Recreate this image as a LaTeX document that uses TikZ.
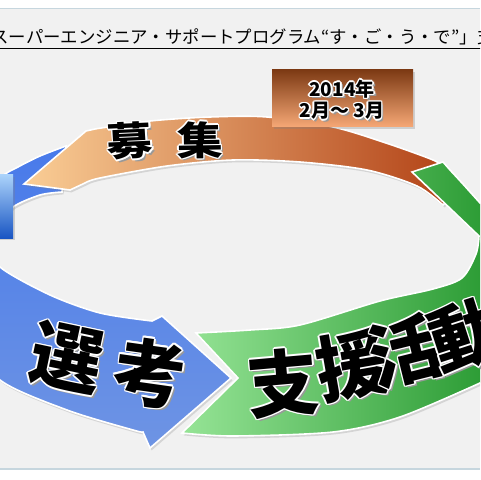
\documentclass[tikz,border=0pt]{standalone}
\usepackage{fontspec}
\newfontfamily\jpfont{Noto Sans CJK JP}
\usetikzlibrary{shadows,calc}
\definecolor{panelgray}{RGB}{241,241,241}
\definecolor{panelline}{RGB}{198,214,222}
\definecolor{opale}{RGB}{250,206,150}
\definecolor{omid}{RGB}{241,160,105}
\definecolor{odeep}{RGB}{178,66,22}
\definecolor{gpale}{RGB}{150,228,150}
\definecolor{gdeep}{RGB}{28,145,38}
\definecolor{bdeep}{RGB}{72,122,234}
\definecolor{bpale}{RGB}{110,148,228}
\definecolor{boxtop}{RGB}{125,58,20}
\definecolor{boxbot}{RGB}{246,168,118}
\tikzstyle{ring}=[draw=white,line width=0.8pt,drop shadow={shadow xshift=0.8pt,shadow yshift=-1.2pt,opacity=0.25}]

% text with white rim and grey shadow
\newcommand{\rimlabel}[5]{%
  \coordinate (#1c) at (#2);
  \node[#4,text=black!40,rotate=#3] (#1s) at ([shift={(2.5,2.5)}]#1c) {#5};
  \foreach \a in {0,45,...,315}
    \node[#4,text=white,rotate=#3] (#1w\a) at ([shift={(\a:1.5)}]#1c) {#5};
  \node[#4,rotate=#3] (#1) at (#1c) {#5};
}

\begin{document}
\begin{tikzpicture}[
  x=0.5pt,y=-0.5pt,
  big kanji/.style={font=\jpfont\bfseries\fontsize{36pt}{36pt}\selectfont,inner sep=0pt},
  mid kanji/.style={font=\jpfont\bfseries\fontsize{23pt}{23pt}\selectfont,inner sep=0pt,yscale=0.85},
  date text/.style={font=\jpfont\bfseries\fontsize{9.5pt}{9.5pt}\selectfont,inner sep=0pt},
  datebox/.style={minimum width=70.5pt,minimum height=28.5pt,inner sep=0pt,
    top color=boxtop,bottom color=boxbot,
    drop shadow={shadow xshift=1pt,shadow yshift=-1pt,opacity=0.3}},
]
\useasboundingbox (0,0) rectangle (480,480);
\clip (0,0) rectangle (480,480);
\fill[white] (0,0) rectangle (480,480);
\fill[panelgray] (0,9) rectangle (480,469);
\draw[panelline,line width=0.7pt] (0,8.5) -- (480,8.5);
\draw[panelline,line width=0.7pt] (0,469) -- (480,469);

\node[anchor=base west,inner sep=0pt,font=\jpfont\fontsize{8.7pt}{8.7pt}\selectfont] (title) at (-9,44)
  {\underline{スーパーエンジニア・サポートプログラム“す・ご・う・で”」支}};

% blue : 選考
\shade[ring,top color=bdeep,bottom color=bpale]
  (66,146) -- plot[smooth] coordinates {(66,146) (40,156) (18,167) (0,178) (-30,210) (-45,270) (-30,335) (0,380) (67,410) (133,430) (143,432)}
  -- (150,448) -- (231,378) -- (162,316) -- (152,321)
  -- plot[smooth] coordinates {(152,321) (100,313) (50,295) (0,267) (-6,245) (0,225) (13,207) (40,195) (62,192)}
  -- cycle;

% orange : 募集
\shade[ring,left color=opale,middle color=omid,right color=odeep]
  (24,184) -- (86,131) -- (95,129)
  -- plot[smooth] coordinates {(95,129) (150,121) (210,117) (267,117) (333,127) (383,142) (433,160) (446,169)}
  -- (454,195) -- (443,205)
  -- plot[smooth] coordinates {(443,205) (417,186) (367,170) (300,162) (233,160) (167,166) (100,178) (85,183)}
  -- (70,190) -- cycle;

% green : 支援活動
\shade[ring,left color=gpale,right color=gdeep]
  (182,433) -- (238,378) -- (196,333)
  -- plot[smooth] coordinates {(196,333) (250,330) (300,325) (380,301) (433,289) (462,278) (476,254) (479,236)}
  -- (412,172) -- (443,162) -- (450,170)
  -- plot[smooth] coordinates {(450,170) (462,183) (480,203) (500,225)}
  -- (530,260) -- (530,360) -- (480,383)
  -- plot[smooth] coordinates {(480,383) (400,417) (333,432) (233,436) (182,433)}
  -- cycle;

% left box
\shade[top color={rgb,255:red,170;green,210;blue,250},bottom color={rgb,255:red,25;green,85;blue,195},
  drop shadow={shadow xshift=1pt,shadow yshift=-1pt,opacity=0.3}]
  (-10,175) rectangle (13,238);

\node[datebox] (date) at (342.5,98.5) {};
\rimlabel{year}{342,89}{0}{date text}{2014年}
\rimlabel{month}{342,111}{0}{date text}{2月～ 3月}

\rimlabel{bo}{130,141}{3}{mid kanji}{募}
\rimlabel{shu}{200,140}{1}{mid kanji}{集}

\rimlabel{sen}{67,358}{-12}{big kanji}{選}
\rimlabel{ko}{150,373}{-8}{big kanji}{考}

\rimlabel{shi}{283,383}{5}{big kanji}{支}
\rimlabel{en}{352,365}{10}{big kanji}{援}
\rimlabel{katsu}{405,351}{14}{big kanji}{活}
\rimlabel{do}{466,335}{18}{big kanji}{動}
\end{tikzpicture}
\end{document}
